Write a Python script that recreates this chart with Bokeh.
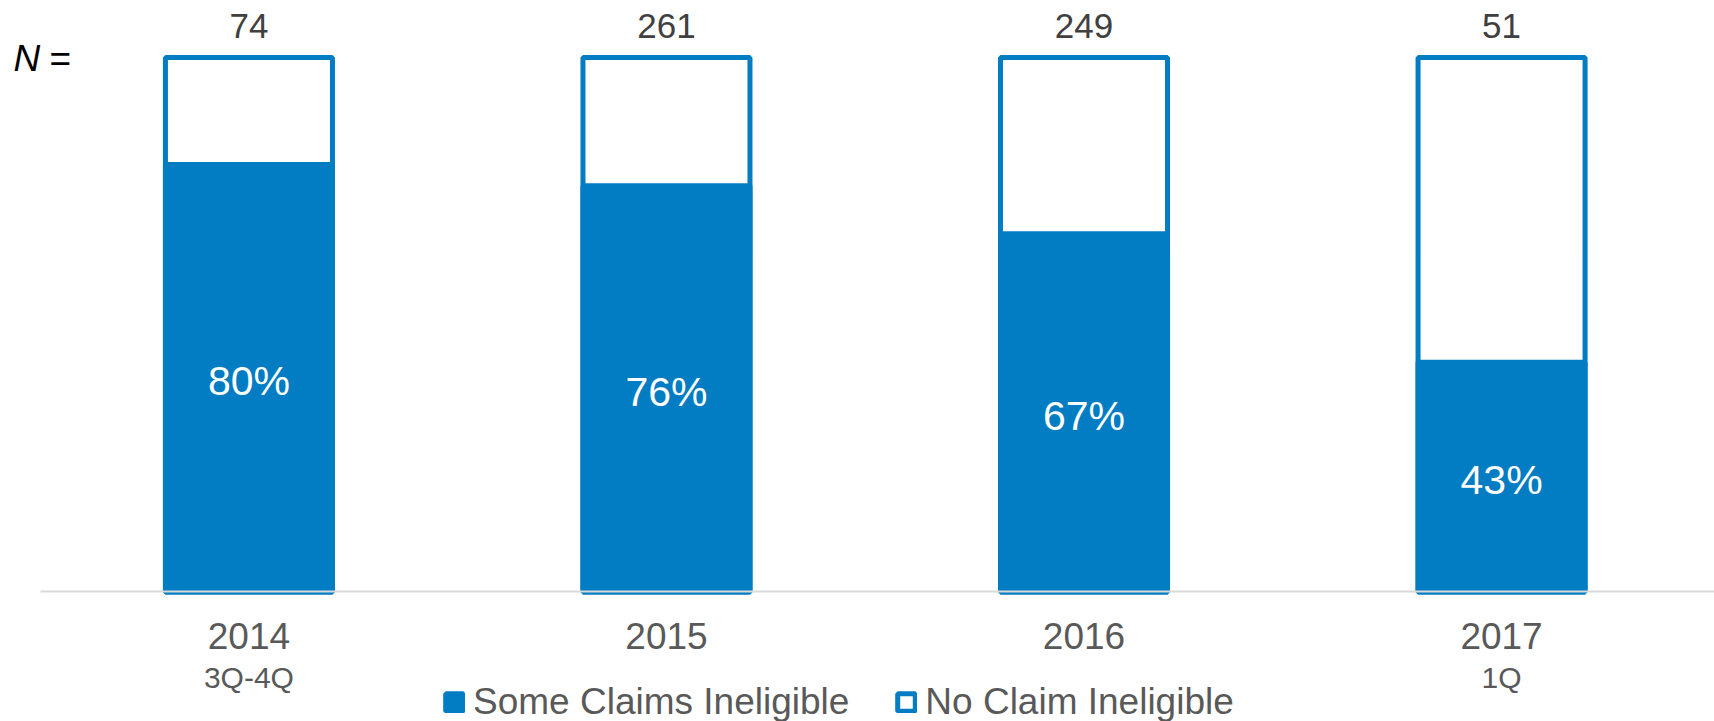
from bokeh.plotting import figure
from bokeh.models import (ColumnDataSource, Range1d, LinearAxis, FixedTicker,
                          Legend, LegendItem, Label)
from bokeh.core.properties import value
from bokeh.embed import file_html
from bokeh.resources import INLINE

# ---- data ----
years = ["2014", "2015", "2016", "2017"]
sublabels = ["3Q-4Q", "", "", "1Q"]
n_values = [74, 261, 249, 51]
some_ineligible = [80, 76, 67, 43]   # percent
total = [100, 100, 100, 100]

BLUE = "#027cc2"
FONT = "Liberation Sans"

xs = list(range(len(years)))
src = ColumnDataSource(dict(
    x=xs,
    total=total,
    some=some_ineligible,
    half=[v / 2 for v in some_ineligible],
    pct=[f"{v}%" for v in some_ineligible],
    n=[str(v) for v in n_values],
    ntop=[106.3] * len(xs),
    sub=sublabels,
    suby=[-16.0] * len(xs),
))

W, H = 1714, 721
p = figure(width=W, height=H, output_backend="svg", toolbar_location=None,
           x_range=Range1d(-0.595, 3.510), y_range=Range1d(-24.23, 110.66),
           x_axis_type=None, y_axis_type=None,
           min_border_left=0, min_border_right=0, min_border_top=0, min_border_bottom=0)
p.outline_line_color = None
p.xgrid.visible = False
p.ygrid.visible = False
p.background_fill_color = "white"
p.border_fill_color = "white"

bar_w = 0.4
r_none = p.vbar(x="x", top="total", bottom=0, width=bar_w, source=src,
                fill_color="white", line_color=BLUE, line_width=5)
r_some = p.vbar(x="x", top="some", bottom=0, width=bar_w, source=src,
                fill_color=BLUE, line_color=BLUE, line_width=5)

# percent labels inside bars
p.text(x="x", y="half", text="pct", source=src, text_align="center",
       text_baseline="middle", text_color="white", text_font=value(FONT),
       text_font_size="41px", y_offset=3)
# N values above bars
p.text(x="x", y="ntop", text="n", source=src, text_align="center",
       text_baseline="middle", text_color="#404040", text_font=value(FONT),
       text_font_size="35px", y_offset=2)
# sub labels under years
p.text(x="x", y="suby", text="sub", source=src, text_align="center",
       text_baseline="middle", text_color="#595959", text_font=value(FONT),
       text_font_size="30px")

# x axis at y=0
xaxis = LinearAxis(fixed_location=0, ticker=FixedTicker(ticks=xs),
                   major_label_overrides={i: y for i, y in enumerate(years)},
                   bounds=(-0.5, 3.6))
xaxis.axis_line_color = "#d9d9d9"
xaxis.axis_line_width = 2
xaxis.major_tick_line_color = None
xaxis.minor_tick_line_color = None
xaxis.major_tick_out = 0
xaxis.major_tick_in = 0
xaxis.major_label_standoff = 31
xaxis.major_label_text_font = FONT
xaxis.major_label_text_font_size = "37px"
xaxis.major_label_text_color = "#595959"
p.add_layout(xaxis, "below")

# "N =" label
p.add_layout(Label(x=13, y=H - 58, x_units="screen", y_units="screen", text="N",
                   text_font=FONT, text_font_style="italic", text_font_size="37px",
                   text_color="black", text_baseline="middle"))
p.add_layout(Label(x=49, y=H - 58, x_units="screen", y_units="screen", text="=",
                   text_font=FONT, text_font_size="37px",
                   text_color="black", text_baseline="middle"))

legend = Legend(items=[LegendItem(label="Some Claims Ineligible", renderers=[r_some]),
                       LegendItem(label="No Claim Ineligible", renderers=[r_none])],
                orientation="horizontal", location=(443, -2),
                glyph_width=22, glyph_height=22, label_standoff=8, spacing=46,
                padding=0, margin=0, border_line_color=None,
                background_fill_alpha=0,
                label_text_font=FONT, label_text_font_size="37px",
                label_text_color="#595959")
p.add_layout(legend)

open("out.html", "w").write(file_html(p, INLINE))
